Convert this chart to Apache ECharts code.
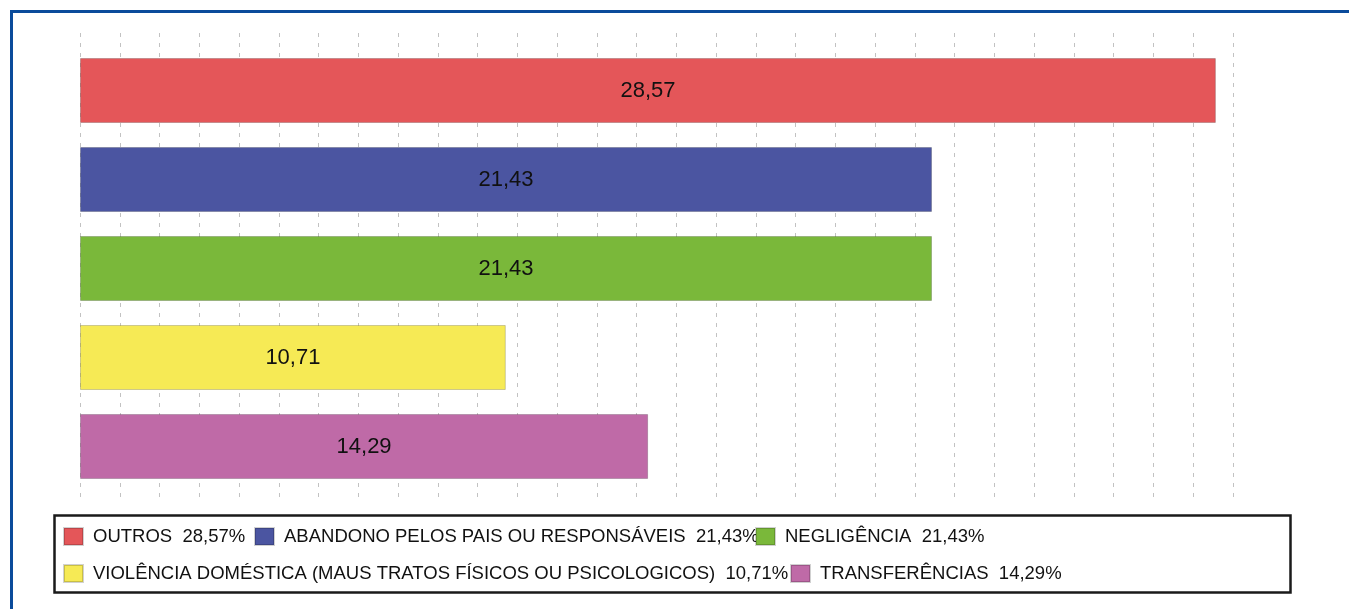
<!DOCTYPE html>
<html>
<head>
<meta charset="utf-8">
<script src="https://cdn.jsdelivr.net/npm/echarts@6/dist/echarts.min.js"></script>
<style>
  html, body { margin: 0; padding: 0; background: #fff; }
  #chart { width: 1349px; height: 609px; }
</style>
</head>
<body>
<div id="chart"></div>
<script>
const categories = [
  'OUTROS',
  'ABANDONO PELOS PAIS OU RESPONSÁVEIS',
  'NEGLIGÊNCIA',
  'VIOLÊNCIA DOMÉSTICA (MAUS TRATOS FÍSICOS OU PSICOLOGICOS)',
  'TRANSFERÊNCIAS'
];
const values = [28.57, 21.43, 21.43, 10.71, 14.29];
const percentLabels = ['28,57%', '21,43%', '21,43%', '10,71%', '14,29%'];
const colors = ['#e45659', '#4b55a1', '#7ab83a', '#f6ea55', '#bf6aa7'];

const chart = echarts.init(document.getElementById('chart'), null, { renderer: 'canvas' });

const fontFamily = '"Liberation Sans", Arial, sans-serif';

// legend positions [left, top] - one legend per entry so they can overlap like the original
const legendPos = [[63, 527], [254, 527], [755, 527], [63, 564], [790, 564]];

const legends = categories.map((name, i) => ({
  data: [name],
  left: legendPos[i][0],
  top: legendPos[i][1],
  padding: 0,
  icon: 'rect',
  itemWidth: 19,
  itemHeight: 17,
  selectedMode: false,
  formatter: (n) => n + '  ' + percentLabels[categories.indexOf(n)],
  textStyle: {
    fontFamily: fontFamily,
    fontSize: 18.5,
    color: '#111',
    lineHeight: 17,
    padding: [0, 0, 0, 5]
  }
}));

const series = categories.map((name, i) => ({
  name: name,
  type: 'bar',
  stack: 'all',
  xAxisIndex: 1,
  yAxisIndex: 1,
  barWidth: 65,
  itemStyle: {
    color: colors[i],
    borderColor: 'rgba(0,0,0,0.18)',
    borderWidth: 1
  },
  label: {
    show: true,
    position: 'inside',
    color: '#111',
    fontFamily: fontFamily,
    fontSize: 22,
    formatter: (p) => p.value.toFixed(2).replace('.', ',')
  },
  data: values.map((v, j) => (j === i ? v : null))
}));

const option = {
  animation: false,
  backgroundColor: '#fff',
  grid: [
    { left: 80, right: 116, top: 33, bottom: 107 },
    { left: 80, right: 116, top: 46, bottom: 118 }
  ],
  xAxis: [
    {
      gridIndex: 0,
      type: 'value',
      min: 0,
      max: 29,
      interval: 1,
      axisLine: { show: false },
      axisTick: { show: false },
      axisLabel: { show: false },
      splitLine: {
        show: true,
        lineStyle: { color: '#c2c2c2', width: 1, type: [4, 6] }
      }
    },
    {
      gridIndex: 1,
      type: 'value',
      min: 0,
      max: 29,
      interval: 1,
      show: false
    }
  ],
  yAxis: [
    { gridIndex: 0, type: 'value', min: 0, max: 1, show: false },
    {
      gridIndex: 1,
      type: 'category',
      inverse: true,
      data: categories,
      show: false
    }
  ],
  legend: legends,
  graphic: [
    {
      type: 'rect',
      shape: { x: 11.5, y: 11.5, width: 1400, height: 700 },
      style: { fill: 'none', stroke: '#0a4b9b', lineWidth: 3 },
      silent: true
    },
    {
      type: 'rect',
      shape: { x: 54.5, y: 515.5, width: 1236, height: 77 },
      style: { fill: 'none', stroke: '#1a1a1a', lineWidth: 2.5 },
      silent: true,
      z: -1
    }
  ],
  series: series
};

chart.setOption(option);
</script>
</body>
</html>
